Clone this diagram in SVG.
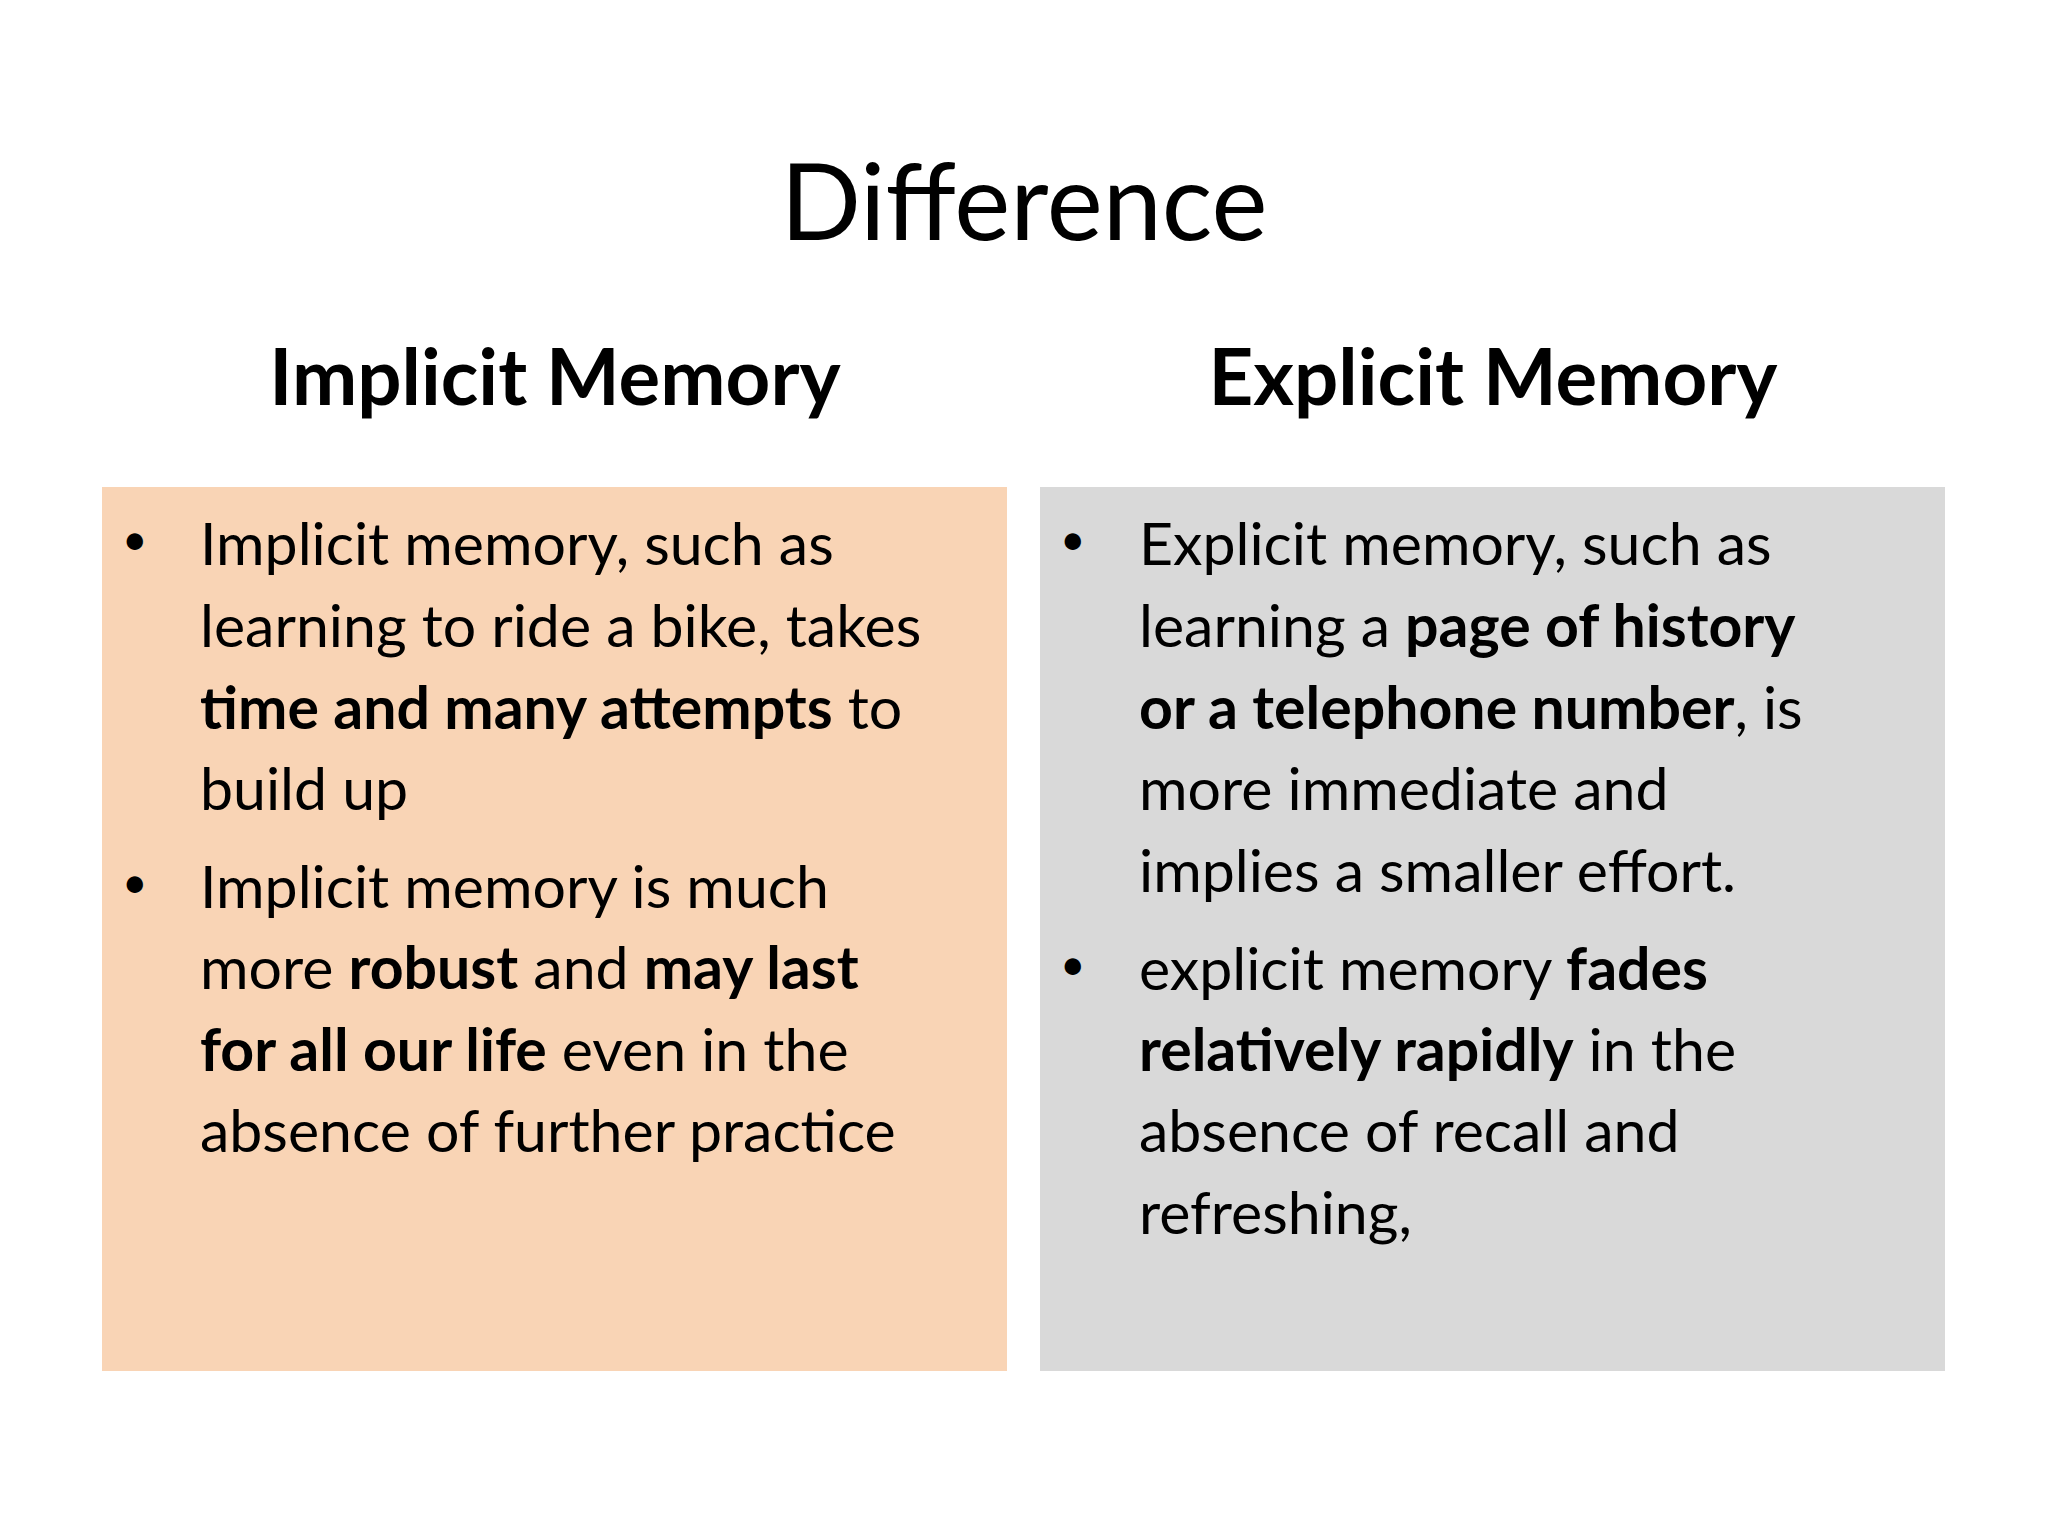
<svg xmlns="http://www.w3.org/2000/svg" width="2048" height="1536" viewBox="0 0 2048 1536">
<style>
text{font-family:Lato,"Open Sans","DejaVu Sans",sans-serif;fill:#000}
.t{font-size:106px}
.h{font-size:78px;font-weight:bold;text-anchor:middle}
.b{font-size:59px}
.bu{font-size:44px}
tspan.k{font-weight:bold}
</style>
<rect width="2048" height="1536" fill="#fff"/>
<text class="t" x="1024" y="240" text-anchor="middle">Difference</text>
<g id="implicit">
<text class="h" x="555" y="405">Implicit Memory</text>
<rect x="102" y="487" width="905" height="884" fill="#F9D4B5"/>
<text class="bu" x="122" y="555">•</text>
<text class="bu" x="122" y="898">•</text>
<text class="b" x="200" y="565">Implicit memory, such as</text>
<text class="b" x="200" y="647">learning to ride a bike, takes</text>
<text class="b" x="200" y="729"><tspan class="k">time and many attempts</tspan> to</text>
<text class="b" x="200" y="810">build up</text>
<text class="b" x="200" y="908">Implicit memory is much</text>
<text class="b" x="200" y="989">more <tspan class="k">robust</tspan> and <tspan class="k">may last</tspan></text>
<text class="b" x="200" y="1071"><tspan class="k">for all our life</tspan> even in the</text>
<text class="b" x="200" y="1152">absence of further practice</text>
</g>
<g id="explicit">
<text class="h" x="1493" y="405">Explicit Memory</text>
<rect x="1040" y="487" width="905" height="884" fill="#D9D9D9"/>
<text class="bu" x="1060" y="555">•</text>
<text class="bu" x="1060" y="980">•</text>
<text class="b" x="1139" y="565">Explicit memory, such as</text>
<text class="b" x="1139" y="647">learning a <tspan class="k">page of history</tspan></text>
<text class="b" x="1139" y="729"><tspan class="k">or a telephone number</tspan>, is</text>
<text class="b" x="1139" y="810">more immediate and</text>
<text class="b" x="1139" y="892">implies a smaller effort.</text>
<text class="b" x="1139" y="990">explicit memory <tspan class="k">fades</tspan></text>
<text class="b" x="1139" y="1071"><tspan class="k">relatively rapidly</tspan> in the</text>
<text class="b" x="1139" y="1152">absence of recall and</text>
<text class="b" x="1139" y="1234">refreshing,</text>
</g>
<g id="connectors"/>
</svg>
